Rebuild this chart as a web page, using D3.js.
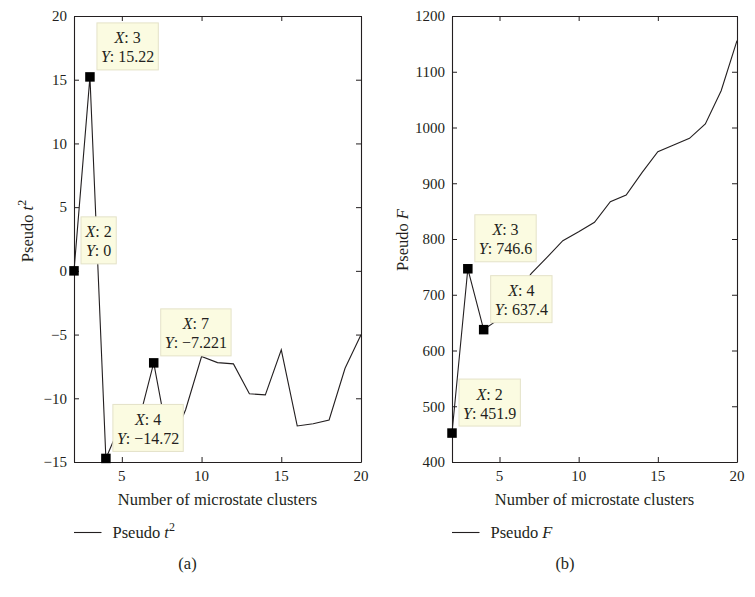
<!DOCTYPE html>
<html>
<head>
<meta charset="utf-8">
<script src="https://cdn.jsdelivr.net/npm/d3@7"></script>
<style>
  html, body { margin: 0; padding: 0; background: #fff; }
  svg { display: block; }
  text { font-family: "Liberation Serif", "Times New Roman", serif; fill: #231f20; }
</style>
</head>
<body>
<svg id="chart" width="755" height="597"></svg>
<script>
// ---- data ----
const clusters = [2, 3, 4, 5, 6, 7, 8, 9, 10, 11, 12, 13, 14, 15, 16, 17, 18, 19, 20];
const pseudoT2 = [0, 15.22, -14.72, -11.8, -12.1, -7.221, -13.9, -10.9, -6.72, -7.2, -7.3, -9.65, -9.73, -6.2, -12.17, -12.0, -11.7, -7.64, -5.02];
const pseudoF  = [451.9, 746.6, 637.4, 657, 698, 738, 767, 797, 813, 830, 867, 879, 919, 956.6, 968.6, 980.6, 1006.3, 1066, 1155.7];
const xTicks = [5, 10, 15, 20];
const t2Ticks = [-15, -10, -5, 0, 5, 10, 15, 20];
const fTicks = [400, 500, 600, 700, 800, 900, 1000, 1100, 1200];
const t2Tips = [
  {x: 3, label: "15.22"},
  {x: 2, label: "0"},
  {x: 7, label: "\u22127.221"},
  {x: 4, label: "\u221214.72"}
];
const fTips = [
  {x: 3, label: "746.6"},
  {x: 4, label: "637.4"},
  {x: 2, label: "451.9"}
];

const svg = d3.select("#chart");
const ink = "#231f20";

function panel(opts) {
  const g = svg.append("g");
  const x = d3.scaleLinear().domain([2, 20]).range([opts.left, opts.right]);
  const y = d3.scaleLinear().domain(opts.yDomain).range([opts.bottom, opts.top]);
  const fmt = d3.format("");

  // inward ticks on all four sides
  const tickLen = 5;
  const xAxisB = d3.axisBottom(x).tickValues(xTicks).tickSizeInner(-tickLen).tickSizeOuter(0).tickFormat("");
  const xAxisT = d3.axisTop(x).tickValues(xTicks).tickSizeInner(-tickLen).tickSizeOuter(0).tickFormat("");
  const yAxisL = d3.axisLeft(y).tickValues(opts.yTicks).tickSizeInner(-tickLen).tickSizeOuter(0).tickFormat("");
  const yAxisR = d3.axisRight(y).tickValues(opts.yTicks).tickSizeInner(-tickLen).tickSizeOuter(0).tickFormat("");
  [[xAxisB, `translate(0,${opts.bottom})`], [xAxisT, `translate(0,${opts.top})`],
   [yAxisL, `translate(${opts.left},0)`], [yAxisR, `translate(${opts.right},0)`]].forEach(([ax, tr]) => {
    const a = g.append("g").attr("transform", tr).call(ax);
    a.selectAll("path").attr("stroke", ink).attr("stroke-width", 1.1);
    a.selectAll("line").attr("stroke", ink).attr("stroke-width", 1);
  });

  // tick labels
  g.selectAll(".xl").data(xTicks).enter().append("text")
    .attr("x", d => x(d)).attr("y", opts.bottom + 19)
    .attr("text-anchor", "middle").attr("font-size", 15).text(d => fmt(d));
  g.selectAll(".yl").data(opts.yTicks).enter().append("text")
    .attr("x", opts.left - 7).attr("y", d => y(d))
    .attr("dy", "0.35em")
    .attr("text-anchor", "end").attr("font-size", 15).text(d => d3.format("")(d));

  // line
  const line = d3.line().x((d, i) => x(clusters[i])).y(d => y(d));
  g.append("path").datum(opts.values).attr("d", line)
    .attr("fill", "none").attr("stroke", ink).attr("stroke-width", 1.1).attr("stroke-linejoin", "miter");

  // datatips
  const ms = 9.5;
  opts.tips.forEach(t => {
    const i = clusters.indexOf(t.x);
    const px = x(t.x), py = y(opts.values[i]);
    const tg = g.append("g");
    const rect = tg.append("rect");
    const txt = tg.append("text").attr("font-size", 16).attr("text-anchor", "middle");
    const l1 = txt.append("tspan");
    l1.append("tspan").attr("font-style", "italic").text("X");
    l1.append("tspan").text(": " + t.x);
    const l2 = txt.append("tspan");
    l2.append("tspan").attr("font-style", "italic").text("Y");
    l2.append("tspan").text(": " + t.label);
    // measure
    l1.attr("x", 0).attr("y", 0);
    l2.attr("x", 0).attr("y", 19);
    const w = txt.node().getBBox().width + 8;
    const h = 47;
    const bx = px + 7, by = py - 7 - h;
    rect.attr("x", bx).attr("y", by).attr("width", w).attr("height", h)
      .attr("fill", "#fbfbe1").attr("stroke", "#e4e2c8").attr("stroke-width", 1);
    l1.attr("x", bx + w / 2).attr("y", by + 20.5);
    l2.attr("x", bx + w / 2).attr("y", by + 39.5);
    g.append("rect").attr("x", px - ms / 2).attr("y", py - ms / 2)
      .attr("width", ms).attr("height", ms).attr("fill", "#000");
  });

  // axis labels
  g.append("text").attr("x", (opts.left + opts.right) / 2).attr("y", 505)
    .attr("text-anchor", "middle").attr("font-size", 16.5).text("Number of microstate clusters");
  const yl = g.append("text")
    .attr("transform", `translate(${opts.yLabelX},${opts.yLabelY}) rotate(-90)`)
    .attr("text-anchor", "middle").attr("font-size", 16.5);
  opts.yLabel(yl);

  // legend
  g.append("line").attr("x1", opts.left).attr("x2", opts.left + 27.5)
    .attr("y1", 532.5).attr("y2", 532.5).attr("stroke", ink).attr("stroke-width", 1.1);
  const lt = g.append("text").attr("x", opts.left + 38.5).attr("y", 537.5).attr("font-size", 16.5);
  opts.yLabel(lt);

  g.append("text").attr("x", opts.capX).attr("y", 569)
    .attr("text-anchor", "middle").attr("font-size", 16.5).text(opts.caption);
}

panel({
  left: 74, right: 361, top: 16, bottom: 462,
  yDomain: [-15, 20], yTicks: t2Ticks, values: pseudoT2, tips: t2Tips,
  yLabelX: 33, yLabelY: 231, capX: 187.5, caption: "(a)",
  yLabel: s => {
    s.append("tspan").text("Pseudo ");
    s.append("tspan").attr("font-style", "italic").text("t");
    s.append("tspan").attr("font-size", 12).attr("dy", "-0.55em").text("2");
  }
});

panel({
  left: 452, right: 737, top: 16, bottom: 462,
  yDomain: [400, 1200], yTicks: fTicks, values: pseudoF, tips: fTips,
  yLabelX: 408, yLabelY: 240, capX: 565, caption: "(b)",
  yLabel: s => {
    s.append("tspan").text("Pseudo ");
    s.append("tspan").attr("font-style", "italic").text("F");
  }
});
</script>
</body>
</html>
